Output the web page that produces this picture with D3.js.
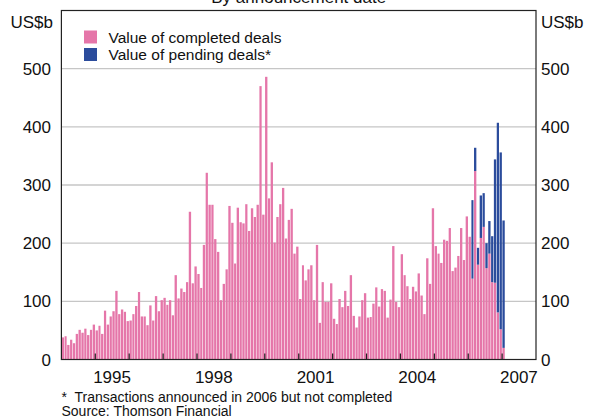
<!DOCTYPE html>
<html lang="en">
<head>
<meta charset="UTF-8">
<title>M&amp;A deals by announcement date</title>
<script src="https://cdn.jsdelivr.net/npm/d3@7"></script>
<style>
  body { margin: 0; background: #fff; }
  text { font-family: Arial, "Liberation Sans", sans-serif; fill: #111; }
</style>
</head>
<body>
<svg id="main" width="591" height="418"></svg>
<script>
// monthly data Dec-1993 .. Dec-2006, US$b, plotted at end of month
var completed = [
  38,
  40, 25, 34, 28, 44, 51, 46, 53, 42, 51, 60, 50,
  58, 44, 84, 60, 74, 83, 118, 78, 86, 82, 66, 67,
  78, 92, 116, 74, 74, 59, 93, 67, 109, 83, 102, 106,
  94, 102, 76, 145, 105, 122, 116, 133, 254, 131, 160, 147,
  123, 197, 321, 266, 266, 207, 185, 102, 130, 155, 264, 235,
  165, 261, 236, 234, 267, 221, 260, 245, 266, 470, 249, 486,
  277, 339, 201, 245, 267, 295, 208, 240, 259, 182, 194, 104,
  162, 136, 155, 162, 102, 197, 63, 133, 99, 99, 131, 70,
  61, 104, 90, 118, 92, 145, 75, 55, 74, 102, 114, 72,
  73, 96, 124, 91, 121, 118, 72, 103, 195, 99, 90, 181,
  145, 126, 104, 125, 117, 148, 110, 78, 174, 130, 260, 195,
  182, 166, 206, 204, 226, 152, 158, 178, 226, 171, 246, 211,
  139, 324, 163, 209, 228, 157, 182, 133, 132, 81, 52, 20
];
// transactions announced in 2006 but not completed, Jan..Dec 2006
var pending = [135, 40, 29, 73, 58, 43, 56, 79, 212, 326, 304, 219];

var yTicks = [0, 100, 200, 300, 400, 500];
var xLabels = ["1995", "1998", "2001", "2004", "2007"];
var legendItems = ["Value of completed deals", "Value of pending deals*"];
var colours = ["#e576a9", "#2b4c9c"];

var svg = d3.select("svg#main");
var pLeft = 61.4, pRight = 536, pTop = 10.5, pBottom = 359.5;

var months = d3.timeMonth.range(new Date(1993, 11, 1), new Date(2007, 0, 1));
var data = months.map(function(m, i) {
  var p = 0;
  if (m.getFullYear() === 2006) p = pending[m.getMonth()];
  return { date: d3.timeMonth.offset(m, 1), completed: completed[i], pending: p };
});

var x = d3.scaleTime()
  .domain([new Date(1994, 0, 1), new Date(2008, 0, 1)])
  .range([pLeft, pRight]);
var y = d3.scaleLinear().domain([0, 600]).range([pBottom, pTop]);

// title, cut at the top edge as in the source
svg.append("text").attr("x", (pLeft + pRight) / 2).attr("y", 3)
  .attr("text-anchor", "middle").style("font-size", "17px")
  .text("By announcement date");

// grid
svg.append("g").selectAll("line")
  .data(yTicks.filter(function(d) { return d > 0; }))
  .enter().append("line")
  .attr("x1", pLeft).attr("x2", pRight)
  .attr("y1", function(d) { return y(d); }).attr("y2", function(d) { return y(d); })
  .attr("stroke", "#c6c6c6").attr("stroke-width", 1.3);

function barW(d) {
  return x(d3.timeMonth.offset(d.date, 1)) - x(d.date) - 0.55;
}

svg.append("g").selectAll("rect")
  .data(data).enter().append("rect")
  .attr("x", function(d) { return x(d.date) + 0.3; })
  .attr("width", barW)
  .attr("y", function(d) { return y(d.completed); })
  .attr("height", function(d) { return y(0) - y(d.completed); })
  .attr("fill", colours[0]);

svg.append("g").selectAll("rect")
  .data(data.filter(function(d) { return d.pending > 0; })).enter().append("rect")
  .attr("x", function(d) { return x(d.date) + 0.3; })
  .attr("width", barW)
  .attr("y", function(d) { return y(d.completed + d.pending); })
  .attr("height", function(d) { return y(d.completed) - y(d.completed + d.pending); })
  .attr("fill", colours[1]);

// frame
svg.append("rect").attr("x", pLeft).attr("y", pTop)
  .attr("width", pRight - pLeft).attr("height", pBottom - pTop)
  .attr("fill", "none").attr("stroke", "#222").attr("stroke-width", 1.2);

// year ticks
svg.append("g").selectAll("line")
  .data(d3.timeYear.range(new Date(1995, 0, 1), new Date(2008, 0, 1)))
  .enter().append("line")
  .attr("x1", function(d) { return x(d); }).attr("x2", function(d) { return x(d); })
  .attr("y1", pBottom).attr("y2", pBottom - 6)
  .attr("stroke", "#222").attr("stroke-width", 1.2);

// y labels both sides
svg.append("g").selectAll("text").data(yTicks).enter().append("text")
  .attr("x", 51).attr("y", function(d) { return y(d); }).attr("dy", "0.36em")
  .attr("text-anchor", "end").style("font-size", "17px")
  .text(function(d) { return d; });
svg.append("g").selectAll("text").data(yTicks).enter().append("text")
  .attr("x", 541).attr("y", function(d) { return y(d); }).attr("dy", "0.36em")
  .style("font-size", "17px")
  .text(function(d) { return d; });

svg.append("text").attr("x", 53).attr("y", 28).attr("text-anchor", "end")
  .style("font-size", "17px").text("US$b");
svg.append("text").attr("x", 541).attr("y", 28)
  .style("font-size", "17px").text("US$b");

// x labels, centred on the year
svg.append("g").selectAll("text").data(xLabels).enter().append("text")
  .attr("x", function(d) { return x(new Date(+d, 6, 1)); })
  .attr("y", 382.5).attr("text-anchor", "middle").style("font-size", "17px")
  .text(function(d) { return d; });

// legend
var leg = svg.append("g").selectAll("g").data(legendItems).enter().append("g")
  .attr("transform", function(d, i) { return "translate(84," + (30.5 + i * 17.5) + ")"; });
leg.append("rect").attr("width", 13).attr("height", 13)
  .attr("fill", function(d, i) { return colours[i]; });
leg.append("text").attr("x", 24.5).attr("y", 12).style("font-size", "15.5px")
  .text(function(d) { return d; });

// notes
svg.append("text").attr("x", 61.5).attr("y", 401.5).style("font-size", "14px")
  .attr("xml:space", "preserve").text("*  Transactions announced in 2006 but not completed");
svg.append("text").attr("x", 61.5).attr("y", 416).style("font-size", "14px")
  .text("Source: Thomson Financial");
</script>
</body>
</html>
